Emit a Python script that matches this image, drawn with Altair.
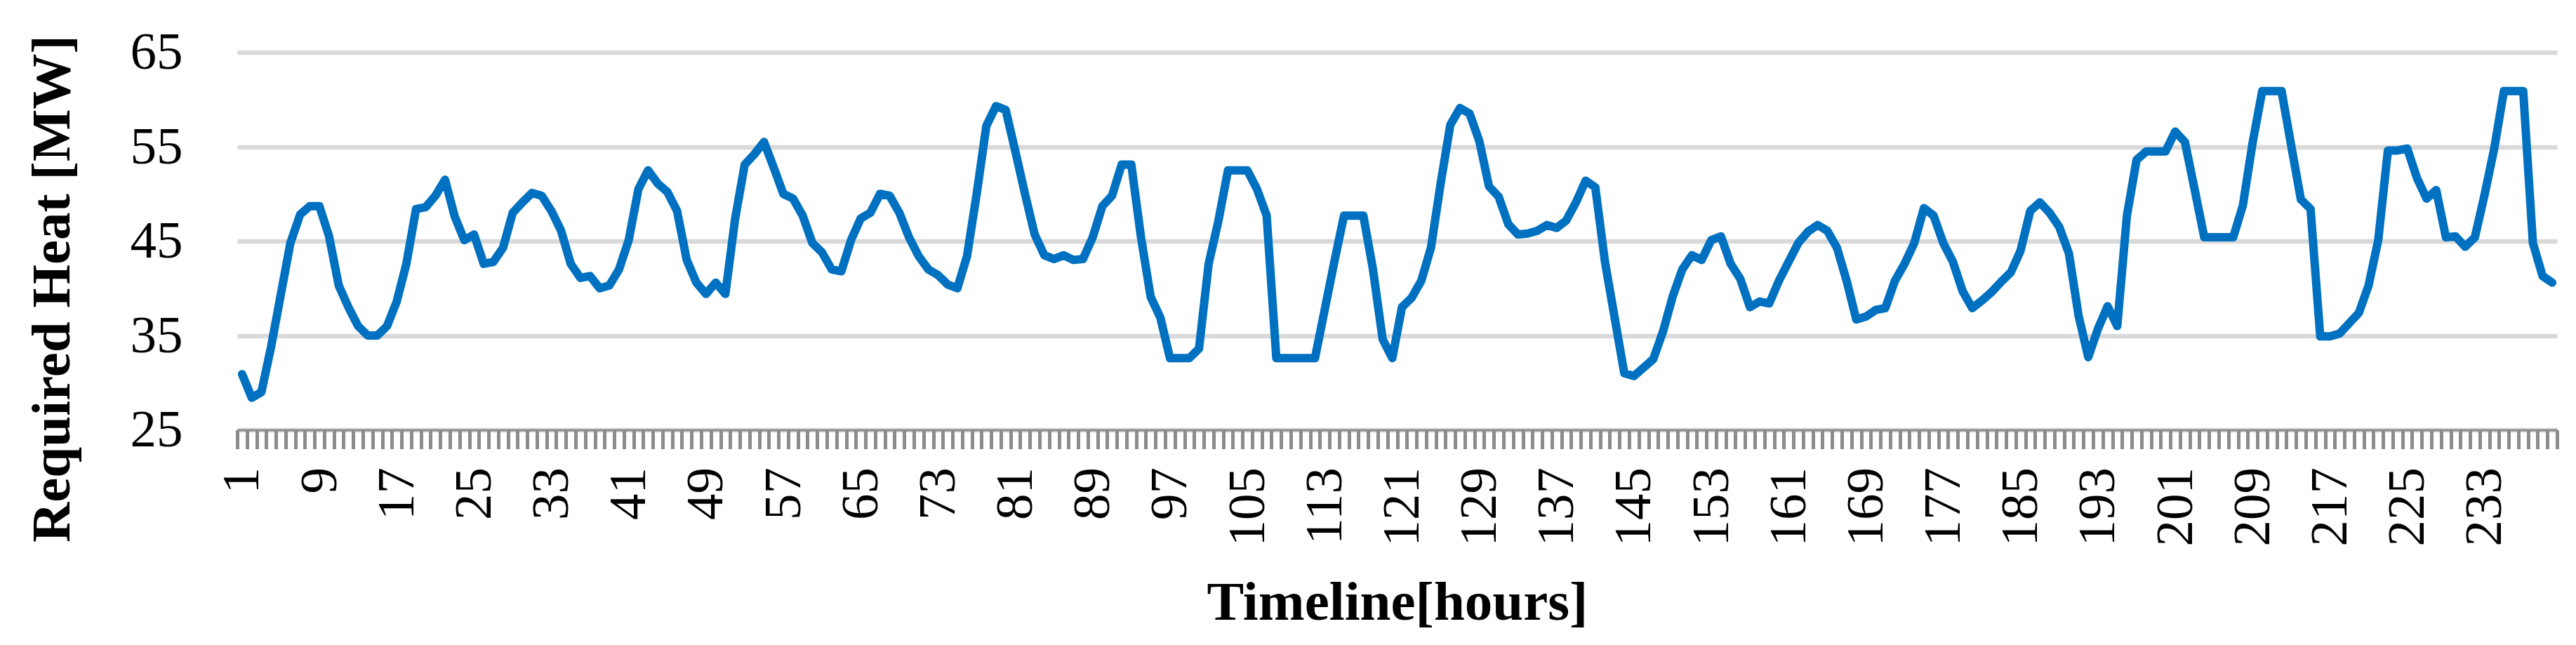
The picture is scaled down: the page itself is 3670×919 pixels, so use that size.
import altair as alt
import pandas as pd

# Required heat [MW], read hour by hour from the reference (10 blocks of 24 h)
day1 = [30.9, 28.4, 29.0, 33.8, 39.3, 44.8, 47.8, 48.7, 48.7, 45.5, 40.3, 38.0,
        36.0, 35.0, 35.0, 36.0, 38.6, 42.6, 48.4, 48.6, 49.8, 51.5, 47.6, 45.1]
day2 = [45.7, 42.6, 42.8, 44.3, 48.0, 49.1, 50.1, 49.8, 48.2, 46.1, 42.6, 41.1,
        41.3, 40.0, 40.3, 42.0, 45.1, 50.5, 52.5, 51.1, 50.2, 48.2, 43.0, 40.6]
day3 = [39.4, 40.6, 39.4, 47.3, 53.1, 54.2, 55.5, 52.8, 50.0, 49.5, 47.7, 44.8,
        43.8, 42.0, 41.8, 45.1, 47.4, 48.0, 50.0, 49.8, 48.0, 45.4, 43.4, 42.0]
day4 = [41.4, 40.4, 40.0, 43.4, 50.0, 57.2, 59.3, 58.9, 54.5, 50.0, 45.7, 43.5,
        43.1, 43.5, 43.0, 43.1, 45.4, 48.7, 49.8, 53.1, 53.1, 45.4, 39.1, 36.9]
day5 = [32.6, 32.6, 32.6, 33.6, 42.6, 47.1, 52.5, 52.5, 52.5, 50.5, 47.7, 32.6,
        32.6, 32.6, 32.6, 32.6, 37.7, 42.8, 47.7, 47.7, 47.7, 42.0, 34.6, 32.6]
day6 = [38.0, 39.0, 40.8, 44.3, 51.1, 57.3, 59.1, 58.5, 55.6, 50.8, 49.7, 46.8,
        45.7, 45.8, 46.1, 46.7, 46.4, 47.2, 49.1, 51.4, 50.7, 42.8, 36.9, 31.0]
day7 = [30.7, 31.6, 32.5, 35.4, 39.1, 42.0, 43.5, 43.0, 45.1, 45.5, 42.6, 41.0,
        38.0, 38.6, 38.4, 40.8, 42.8, 44.8, 46.0, 46.7, 46.1, 44.3, 40.8, 36.7]
day8 = [37.0, 37.7, 37.9, 40.8, 42.6, 44.8, 48.5, 47.7, 44.8, 42.8, 39.7, 37.9,
        38.7, 39.6, 40.7, 41.7, 44.0, 48.2, 49.1, 48.0, 46.5, 43.7, 37.1, 32.7]
day9 = [35.7, 38.1, 36.0, 47.7, 53.6, 54.5, 54.5, 54.5, 56.6, 55.5, 50.5, 45.4,
        45.4, 45.4, 45.4, 48.8, 55.4, 60.9, 60.9, 60.9, 55.1, 49.4, 48.4, 34.9]
day10 = [34.9, 35.2, 36.3, 37.4, 40.3, 45.1, 54.6, 54.6, 54.8, 51.7, 49.5, 50.4,
         45.4, 45.5, 44.4, 45.4, 49.9, 54.8, 60.9, 60.9, 60.9, 44.8, 41.3, 40.6]

heat_mw = day1 + day2 + day3 + day4 + day5 + day6 + day7 + day8 + day9 + day10
hours = list(range(1, len(heat_mw) + 1))
hour_labels = [1, 9, 17, 25, 33, 41, 49, 57, 65, 73, 81, 89, 97, 105, 113, 121,
               129, 137, 145, 153, 161, 169, 177, 185, 193, 201, 209, 217, 225, 233]
y_ticks = [25, 35, 45, 55, 65]

df = pd.DataFrame({"hour": hours, "heat": heat_mw})

# category boundaries (Excel-style tick marks between categories)
boundaries = [h - 0.5 for h in hours] + [hours[-1] + 0.5]

PLOT_W = 3305
PLOT_H = 538
half_band = PLOT_W / len(hours) / 2
FONT = "Liberation Serif"

label_list = ",".join(str(v) for v in hour_labels)
label_expr = (f"indexof([{label_list}], datum.value + 0.5) >= 0 ? "
              f"format(datum.value + 0.5, 'd') : ''")

x_axis = alt.Axis(
    values=boundaries,
    labelExpr=label_expr,
    labelAngle=270,
    labelAlign="right",
    labelBaseline="middle",
    labelOffset=half_band,
    labelOverlap=False,
    labelFlush=False,
    labelPadding=26,
    labelFont=FONT,
    labelFontSize=75,
    labelColor="black",
    tickSize=27,
    tickWidth=5,
    tickColor="#8c8c8c",
    domainColor="#8c8c8c",
    domainWidth=3,
    grid=False,
    title="Timeline[hours]",
    titleFont=FONT,
    titleFontSize=79,
    titleFontWeight="bold",
    titleColor="black",
    titleAngle=0,
    titleAlign="center",
    titleBaseline="alphabetic",
    titleX=PLOT_W / 2,
    titleY=269.5,
)

y_axis = alt.Axis(
    values=y_ticks,
    domain=False,
    ticks=False,
    grid=True,
    gridColor="#d9d9d9",
    gridWidth=6.5,
    labelFont=FONT,
    labelFontSize=75,
    labelColor="black",
    labelPadding=78,
    labelBaseline="middle",
    title="Required Heat [MW]",
    titleFont=FONT,
    titleFontSize=79,
    titleFontWeight="bold",
    titleColor="black",
    titleAngle=270,
    titleAlign="center",
    titleBaseline="alphabetic",
    titleX=-240,
    titleY=336.5,
)

chart = (
    alt.Chart(df)
    .mark_line(color="#0070C0", strokeWidth=12, strokeJoin="round", strokeCap="round")
    .encode(
        x=alt.X("hour:Q", scale=alt.Scale(domain=[0.5, len(hours) + 0.5], nice=False, zero=False), axis=x_axis),
        y=alt.Y("heat:Q", scale=alt.Scale(domain=[25, 65], nice=False, zero=False), axis=y_axis),
    )
    .properties(
        width=PLOT_W,
        height=PLOT_H,
        autosize=alt.AutoSizeParams(type="none"),
        padding={"left": 330, "top": 66.5, "right": 19, "bottom": 290},
        background="white",
    )
    .configure_view(stroke=None)
)

chart.save("out.html", embed_options={"renderer": "svg", "actions": False})
